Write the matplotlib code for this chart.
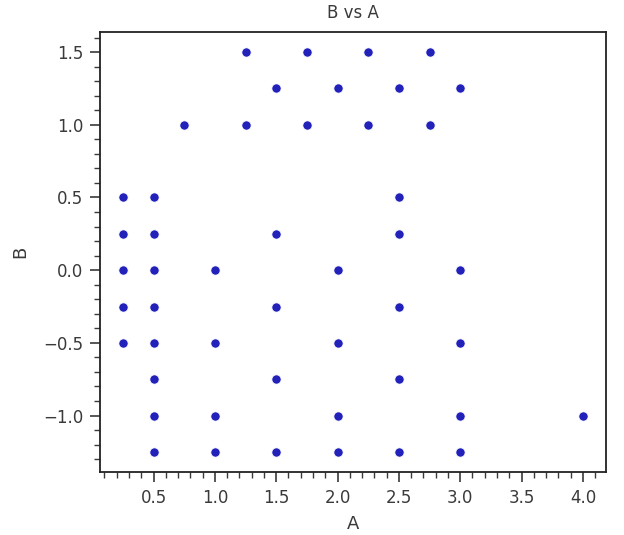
import matplotlib
matplotlib.use("Agg")
import matplotlib.pyplot as plt
import seaborn as sns
from matplotlib.ticker import MultipleLocator

# points, grouped by B row
a_vals = [1.25, 1.75, 2.25, 2.75,
          1.5, 2.0, 2.5, 3.0,
          0.75, 1.25, 1.75, 2.25, 2.75,
          0.25, 0.5, 2.5,
          0.25, 0.5, 1.5, 2.5,
          0.25, 0.5, 1.0, 2.0, 3.0,
          0.25, 0.5, 1.5, 2.5,
          0.25, 0.5, 1.0, 2.0, 3.0,
          0.5, 1.5, 2.5,
          0.5, 1.0, 2.0, 3.0, 4.0,
          0.5, 1.0, 1.5, 2.0, 2.5, 3.0]
b_vals = [1.5] * 4 + [1.25] * 4 + [1.0] * 5 + [0.5] * 3 + [0.25] * 4 \
    + [0.0] * 5 + [-0.25] * 4 + [-0.5] * 5 + [-0.75] * 3 + [-1.0] * 5 \
    + [-1.25] * 6

sns.set_style("ticks")
plt.rcParams['font.family'] = ['DejaVu Sans']

fig, ax = plt.subplots(figsize=(6.24, 5.35), dpi=100)
fig.subplots_adjust(left=0.160, right=0.971, top=0.940, bottom=0.118)

ax.scatter(a_vals, b_vals, s=44, color="#2222bb", edgecolor="white", linewidth=0.5, zorder=3)

ax.xaxis.set_major_locator(MultipleLocator(0.5))
ax.xaxis.set_minor_locator(MultipleLocator(0.1))
ax.yaxis.set_major_locator(MultipleLocator(0.5))
ax.yaxis.set_minor_locator(MultipleLocator(0.1))
ax.tick_params(which="major", length=7, width=1.2, pad=5, labelsize=12, colors="#3a3a3a")
ax.tick_params(which="minor", length=4.5, width=1.0, colors="#3a3a3a")
for sp in ax.spines.values():
    sp.set_color("#222222")
    sp.set_linewidth(1.3)

ax.set_xlabel("A", fontsize=13, color="#3a3a3a", labelpad=6)
ax.set_ylabel("B", fontsize=13, color="#3a3a3a", labelpad=10)
ax.set_title("B vs A", fontsize=12, color="#3a3a3a", pad=10)

fig.savefig("out.png", dpi=100)
